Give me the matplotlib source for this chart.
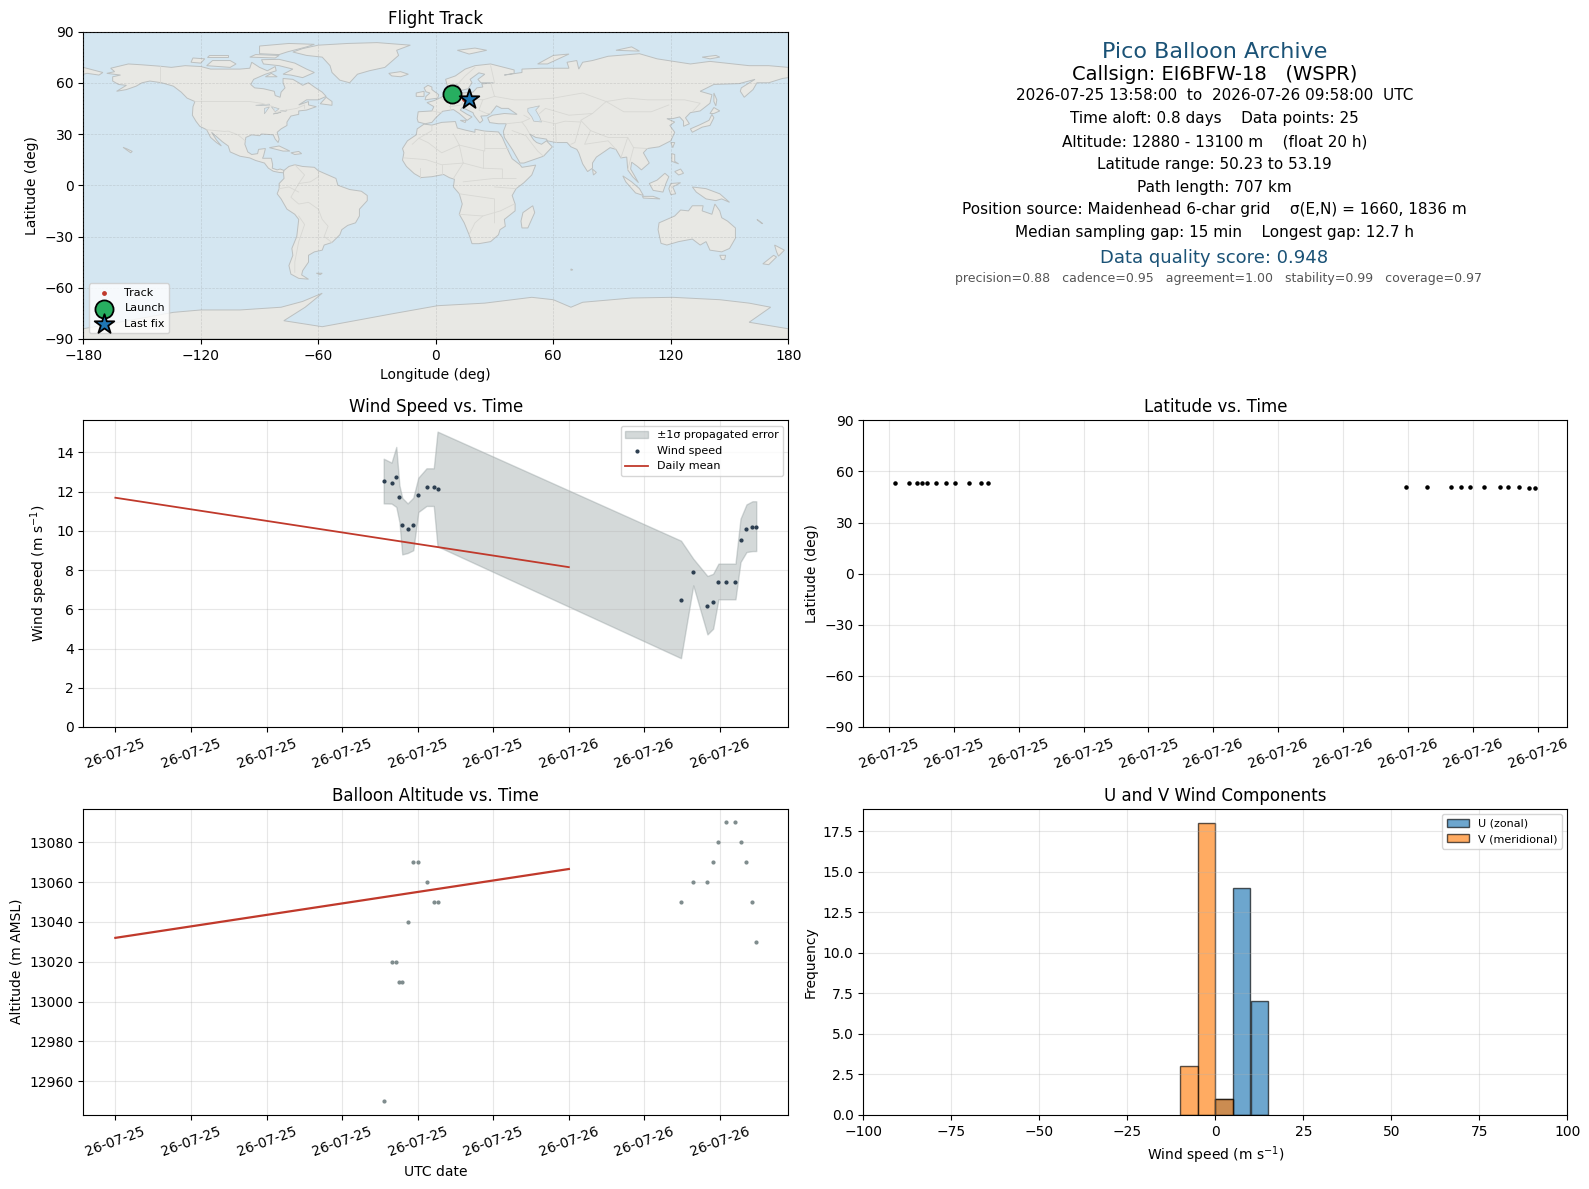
#!/usr/bin/env python3
"""
Painel de resumo de um voo de pico balloon (EI6BFW-18, WSPR).
Valores lidos do grafico original.
"""

from __future__ import annotations

import matplotlib
matplotlib.use("Agg")
import matplotlib.dates as mdates
import matplotlib.pyplot as plt
import pandas as pd


TIMES = [
    "2026-07-25 14:12", "2026-07-25 14:37", "2026-07-25 14:52", "2026-07-25 15:02",
    "2026-07-25 15:11", "2026-07-25 15:28", "2026-07-25 15:46", "2026-07-25 16:02",
    "2026-07-25 16:28", "2026-07-25 16:51", "2026-07-25 17:03",
    "2026-07-26 05:56", "2026-07-26 06:35", "2026-07-26 07:20", "2026-07-26 07:38",
    "2026-07-26 07:55", "2026-07-26 08:20", "2026-07-26 08:49", "2026-07-26 09:05",
    "2026-07-26 09:24", "2026-07-26 09:43", "2026-07-26 09:55",
]
WIND = [12.56, 12.46, 12.76, 11.74, 10.31, 10.11, 10.31, 11.85, 12.25, 12.25, 12.15,
        6.49, 7.92, 6.18, 6.39, 7.41, 7.41, 7.41, 9.55, 10.11, 10.21, 10.21]
WIND_UPPER = [13.68, 13.48, 14.28, 12.32, 11.68, 11.40, 11.69, 12.71, 13.19, 13.19, 15.06,
              9.50, 8.58, 7.70, 7.81, 8.33, 8.33, 8.33, 10.62, 11.35, 11.51, 11.51]
WIND_LOWER = [11.40, 11.39, 11.22, 10.45, 8.80, 8.87, 9.01, 10.96, 11.27, 11.27, 9.21,
              3.51, 7.22, 4.72, 5.01, 6.51, 6.51, 6.51, 8.41, 8.92, 8.97, 8.97]
ALTITUDE = [12950, 13020, 13020, 13010, 13010, 13040, 13070, 13070, 13060, 13050, 13050,
            13050, 13060, 13060, 13070, 13080, 13090, 13090, 13080, 13070, 13050, 13030]
LATITUDE = [53.19, 53.19, 53.19, 53.19, 53.19, 53.19, 53.19, 53.19, 53.19, 53.19, 53.19,
            50.65, 50.65, 50.65, 50.65, 50.65, 50.65, 50.65, 50.65, 50.65, 50.23, 50.23]
LONGITUDE = [8.2, 8.4, 8.7, 8.9, 9.2, 9.5, 9.8, 10.1, 10.5, 10.9, 11.2,
             14.6, 14.9, 15.2, 15.4, 15.7, 15.9, 16.2, 16.4, 16.6, 16.8, 17.0]

DAILY_DATES = ["2026-07-25", "2026-07-26"]
DAILY_WIND = [11.69, 8.15]
DAILY_ALTITUDE = [13032, 13066.6]

HIST_LEFT = [-10, -5, 0, 5, 10]
U_COUNTS = [0, 0, 1, 14, 7]
V_COUNTS = [3, 18, 1, 0, 0]

INFO_LINES = [
    ("Pico Balloon Archive", 16, "#1a5276"),
    ("Callsign: EI6BFW-18   (WSPR)", 14, "black"),
    ("2026-07-25 13:58:00  to  2026-07-26 09:58:00  UTC", 11, "black"),
    ("Time aloft: 0.8 days    Data points: 25", 11, "black"),
    ("Altitude: 12880 - 13100 m    (float 20 h)", 11, "black"),
    ("Latitude range: 50.23 to 53.19", 11, "black"),
    ("Path length: 707 km", 11, "black"),
    ("Position source: Maidenhead 6-char grid    σ(E,N) = 1660, 1836 m", 11, "black"),
    ("Median sampling gap: 15 min    Longest gap: 12.7 h", 11, "black"),
    ("Data quality score: 0.948", 13, "#1a5276"),
    ("precision=0.88   cadence=0.95   agreement=1.00   stability=0.99   coverage=0.97", 9, "#555555"),
]
INFO_Y_PX = [51.7, 74, 95.2, 118.4, 141.9, 164.2, 187.2, 209.8, 232.8, 258.4, 278.7]

# Contornos grosseiros dos continentes (lon, lat).
NORTH_AMERICA = [
    (-168, 65.5), (-164, 66.5), (-166, 68.5), (-157, 71), (-150, 70.5), (-141, 69.7), (-135, 69),
    (-128, 70), (-120, 69.5), (-115, 68), (-108, 68), (-100, 68), (-95, 68.5), (-94, 72), (-90, 69),
    (-86, 67), (-82, 69.5), (-81.5, 67), (-87, 65), (-93, 62), (-94.5, 59), (-92.5, 57), (-88, 56.5),
    (-82.5, 55), (-82, 52.5), (-79.5, 51.5), (-79, 54.5), (-77, 57), (-78, 60), (-78, 62.5), (-73, 62),
    (-70, 60), (-68, 58.5), (-65, 60), (-62, 57.5), (-58, 54.5), (-56, 52), (-60, 50), (-66, 50),
    (-70, 47), (-65, 49), (-65, 47), (-61, 46), (-66, 44), (-70, 43.5), (-70, 41.5), (-74, 40.5),
    (-76, 37), (-76, 35), (-79, 33), (-81, 31), (-80, 27), (-80.5, 25), (-82, 27), (-83, 29.5),
    (-85, 29.7), (-89, 30), (-90, 29), (-94, 29.5), (-97, 28), (-97.5, 24), (-96, 19.5), (-94, 18),
    (-91, 18.5), (-90.5, 21), (-87, 21.5), (-88, 17), (-88.5, 15.8), (-84, 15.8), (-83.3, 12),
    (-83.5, 10), (-81, 9), (-79.5, 9.5), (-77.5, 8.7), (-77.8, 7.3), (-80, 7.5), (-83, 8.2),
    (-85.5, 10), (-87.5, 13), (-92, 14.5), (-95, 16), (-100, 17), (-105, 19.5), (-106, 23),
    (-109, 25.5), (-112.5, 29), (-114.5, 31), (-112, 26.5), (-109.5, 23), (-112, 25), (-115, 28),
    (-117, 32.5), (-120.5, 34.5), (-122.5, 37.5), (-124.3, 41), (-124, 46), (-123, 49), (-127, 51),
    (-130, 54.5), (-134, 58), (-140, 60), (-146, 61), (-150, 60), (-153, 58), (-158, 56), (-163, 55),
    (-158, 58.5), (-162, 59), (-165, 61), (-165, 63.5), (-161, 64.5),
]
SOUTH_AMERICA = [
    (-77.5, 8.7), (-75, 11), (-72, 12), (-68, 11), (-62, 10.5), (-60, 8.5), (-55, 6), (-51, 4), (-50, 0),
    (-44, -2.5), (-38, -3.5), (-35, -6), (-35, -9), (-39, -14), (-39, -18), (-41, -22), (-45, -23.5),
    (-48, -26), (-49, -29), (-53, -33.5), (-57, -35), (-58, -38), (-62, -39), (-65, -41), (-65, -45),
    (-68, -50), (-68.5, -52.5), (-65, -55), (-70, -54.5), (-74, -52), (-75, -47), (-73, -41),
    (-73.5, -37), (-71, -30), (-70, -20), (-72, -17), (-76, -14), (-79, -8), (-81, -5), (-80, -2),
    (-80, 1), (-77.5, 4), (-77.8, 7.3),
]
AFRICA = [
    (-6, 35.8), (-2, 35.2), (3, 36.8), (10, 37.3), (11, 33.5), (15, 32.3), (20, 31), (20, 32.8), (25, 31.7),
    (32, 31.2), (34, 28), (35.5, 24), (37.5, 19), (39, 15.5), (43, 12), (44, 10.5), (51, 11.8), (49, 6),
    (45, 1.5), (41, -2), (39, -6), (40.5, -11), (40.5, -15), (35, -20), (35.5, -24), (32.8, -26), (32, -29),
    (28, -33), (22, -34.2), (18.5, -34.2), (17, -29), (14.5, -22), (12, -17), (13.5, -11), (12, -5), (9, -1),
    (9.5, 3.5), (7, 4.4), (4, 6.3), (-2, 5), (-7.5, 4.5), (-11, 6.8), (-15, 11), (-17, 14.7), (-16.3, 19),
    (-17, 21.5), (-14.5, 26), (-10, 29.5), (-9.5, 33),
]
EURASIA = [
    (-9, 37), (-9.5, 39), (-9, 43), (-2, 43.5), (-1, 46), (-4.5, 48.4), (-1, 49.5), (2, 51), (4.5, 52.5),
    (8, 54), (8.5, 57), (10.5, 57.5), (10.5, 54.5), (14, 54), (19, 54.5), (21, 57), (24, 57.5), (23.5, 59.3),
    (29.5, 60), (23, 60), (21.5, 62), (25, 65), (22, 65.8), (17.5, 62), (18.5, 60), (16.5, 56.5), (13, 55.5),
    (11, 59), (6, 58), (5, 62), (10, 64), (15, 68), (20, 70), (28, 71), (40, 67.5), (40, 65.5), (35, 64.5),
    (44, 66), (44, 68), (54, 68.5), (68, 68.5), (67, 72), (72, 73), (73, 68), (75, 72), (80, 73), (88, 75.5),
    (104, 77), (113, 74), (130, 71), (140, 72.5), (160, 70), (170, 70), (180, 69), (180, 63), (177, 62.5),
    (170, 60), (164, 60), (162, 56), (157.5, 51.5), (155.5, 55), (156, 57), (163, 62), (155, 59.5), (142, 59),
    (135, 55), (141, 53), (140, 48), (135, 43.5), (130, 42.5), (127.5, 39.5), (129.5, 36), (126.5, 34.5),
    (126.5, 37.5), (124.5, 40), (121, 39), (118, 39), (122, 37), (119.5, 35), (122, 31), (120, 26), (114, 22.5),
    (108, 21.5), (106, 19), (109, 13), (105, 9), (103, 11), (100, 13.5), (99.5, 9.5), (103.5, 1.5), (100.5, 5),
    (98, 9), (97.5, 16.5), (94.5, 16), (92, 21), (89, 22), (86.5, 20), (82, 16.5), (80, 13), (80, 10), (77.5, 8),
    (75, 12.5), (73, 19), (72, 21), (69, 22.5), (67, 25), (61.5, 25), (57, 26), (56.5, 27), (51, 28), (48, 30),
    (50, 26.5), (51.5, 25), (54, 24), (56.5, 26), (59.5, 22.5), (55, 17), (45, 13), (43, 13), (39, 21),
    (35, 28), (34.5, 31.5), (36, 36), (32, 36), (27.5, 36.7), (26.5, 39.5), (29, 41), (35, 42), (41.5, 41.5),
    (37, 45), (33.5, 45), (31, 46.5), (28, 42), (26, 40.7), (23, 40.5), (24, 38), (22.5, 36.5), (19.5, 41),
    (19, 42.5), (13.5, 45.5), (12.5, 44), (16, 41.5), (18.5, 40), (16, 38), (12, 42), (9, 44.3), (3.5, 43.3),
    (0, 39.5), (-2, 36.8), (-5.5, 36),
]
ANTARCTICA = [
    (-180, -84), (-134, -74.4), (-120, -73), (-100, -73), (-79, -71.4), (-68, -68), (-58, -63.2), (-62, -67),
    (-66.7, -71.4), (-77.6, -79.3), (-58, -82.8), (-40, -79), (-23, -75.4), (1, -70.5), (25, -69), (49, -65.6),
    (60, -67), (69, -71.4), (75, -68.5), (100, -66), (121, -65.6), (145, -67), (160, -69), (171, -71.4), (160, -80.2),
    (180, -84), (180, -90), (-180, -90),
]
AUSTRALIA = [
    (114, -22), (113.5, -26), (115, -34), (118, -35), (124, -33), (131, -31.5), (135, -35), (138, -33), (140, -38),
    (146, -39), (150, -37), (153, -31), (153, -25), (149, -21), (146, -19), (145, -15), (142.5, -11), (141, -17),
    (136, -15), (136.5, -12), (131, -12), (129, -15), (125, -14.5), (122, -18), (118, -20),
]
ISLANDS = [
    [(-73, 78), (-68, 80), (-60, 82), (-45, 83), (-30, 83.5), (-13, 82), (-20, 79), (-19, 76), (-24, 71), (-26, 69),
     (-34, 67), (-40, 65), (-44, 60), (-49, 61.5), (-53, 66), (-54, 70), (-58, 75), (-66, 76)],
    [(-62, 66), (-68, 63), (-74, 64.5), (-78, 65), (-73, 68), (-80, 70), (-88, 71), (-89, 73.5), (-80, 73.7),
     (-72, 71.5), (-66, 68)],
    [(-117, 70), (-105, 69), (-102, 71), (-105, 73), (-114, 73)],
    [(-90, 77), (-80, 76.5), (-76, 78), (-66, 81), (-62, 82.5), (-75, 83), (-90, 81.5)],
    [(-125, 72), (-120, 71.5), (-118, 74), (-124, 74.5)],
    [(-95, 75), (-82, 74.5), (-80, 76), (-92, 76.5)],
    [(-117, 75), (-106, 75), (-106, 76.5), (-116, 76.5)],
    [(-87, 63.5), (-81, 63.5), (-84, 65.5)],
    [(-59, 47.7), (-53, 46.8), (-53, 49), (-56, 51.5)],
    [(-85, 22), (-80, 23), (-74.5, 20), (-78, 20)],
    [(-74, 19), (-70, 19.8), (-68.5, 18.5), (-72, 18)],
    [(-180, 69), (-175, 67.5), (-170, 66), (-172, 64.5), (-178, 65.5), (-180, 65)],
    [(-159.7, 22.2), (-157.5, 21.2), (-155, 19.8), (-155.8, 19)],
    [(145, -41), (148, -41), (147.5, -43.5), (146, -43.5)],
    [(173, -35), (178, -38), (175, -41.5), (174, -39)],
    [(172.5, -41), (174, -42), (170, -46.5), (167, -46)],
    [(131, -1), (138, -2), (145, -5), (150, -10), (146, -8), (143, -9), (138, -8), (133, -4)],
    [(109, 1), (113, 3), (117, 7), (119, 5), (117.5, 1), (116, -4), (111, -3)],
    [(95.5, 5.5), (100, 2), (104, -2), (106, -6), (102, -4.5), (97, 2)],
    [(105.5, -6.5), (111, -6.5), (114.5, -8), (106, -7.5)],
    [(120, 1), (125, 1.5), (121, -1), (122.5, -5), (120, -5.5), (119, -2)],
    [(120.5, 18.5), (122, 18), (122, 14), (124, 12.5), (120.5, 14)],
    [(122, 8), (125, 9.5), (126.5, 7), (124, 6)],
    [(130, 33), (131, 31), (136, 34), (140, 35), (142, 39.5), (141, 41.5), (139.5, 38), (135, 35.5)],
    [(140, 42), (142, 45.5), (145, 43.5), (142, 42)],
    [(142, 54), (143.5, 50), (143, 46.5), (142, 49)],
    [(120, 25), (122, 25), (121, 22)],
    [(80, 9.5), (82, 7.5), (80.5, 6)],
    [(49.5, -12), (50.5, -16), (47, -25), (44, -25), (43.5, -21), (44.5, -16)],
    [(-5.5, 50), (1, 51), (1.5, 53), (-2, 56), (-2, 57.5), (-4, 58.5), (-6, 57), (-5, 54.7), (-3, 54), (-5, 52)],
    [(-10, 52), (-6, 52), (-6, 55), (-10, 54)],
    [(-24, 65.5), (-18, 66.5), (-14, 65), (-18, 63.5), (-22.5, 64)],
    [(11, 79), (20, 80.3), (26, 79), (17, 76.8)],
    [(52, 71), (57, 71), (68, 76.8), (60, 76)],
    [(92, 79), (104, 78.5), (100, 81)],
    [(136, 75), (143, 76), (145, 75), (140, 74)],
    [(12.5, 38), (15.5, 38), (15, 36.7)],
    [(-61, -51.5), (-58, -51.5), (-59, -52.3)],
    [(164, -20), (167, -22.5), (166, -22)],
    [(69, -49), (70, -49.5), (69, -49.8)],
]
INLAND_WATER = [
    [(47, 45), (53, 46.5), (51, 44), (53, 40), (54, 37), (50, 37.5), (49, 40), (47, 43)],
    [(-92, 46.8), (-85, 47.5), (-85, 46.5)],
    [(-87.5, 41.8), (-85, 45.8), (-87.5, 45)],
    [(-84, 46), (-80, 44.8), (-82, 43)],
    [(-83, 41.7), (-79, 42.8), (-79.5, 42.5)],
    [(-79.5, 43.5), (-76, 44), (-76.5, 43.3)],
]
BORDERS = [
    [(-123, 49), (-95, 49), (-89, 48), (-83, 46), (-82, 42.5), (-76, 44), (-71, 45), (-67, 47), (-67, 45)],
    [(-141, 60), (-141, 69.7)],
    [(-117, 32.5), (-108, 31.5), (-106, 31.7), (-101, 29.5), (-97.3, 26)],
    [(-60, 5), (-64, 2), (-70, 1), (-74, -7), (-70, -11), (-65, -10), (-60, -14), (-58, -20), (-55, -24), (-57, -30),
     (-53, -33.5)],
    [(-70, -18), (-67, -23), (-70, -33), (-72, -45), (-72, -51)],
    [(-72, 12), (-67, 6), (-70, 1)],
    [(-60, 8.5), (-60, 5)],
    [(-80, -2), (-75, -1), (-70, -4)],
    [(-8.7, 27.5), (-4, 25), (3, 19), (12, 23.5), (25, 20), (25, 31.7)],
    [(25, 22), (36.8, 22)],
    [(12, 23.5), (14, 13), (24, 10), (34, 9.5), (34, 4), (41, 4)],
    [(-16, 16), (-5, 15), (3, 12), (14, 13)],
    [(9, 4), (14, 13)],
    [(12, -5), (30, -8), (30, -22)],
    [(12, -17), (24, -18), (33, -15), (40, -11)],
    [(17, -29), (20, -22), (24, -18)],
    [(24, 10), (24, 20)],
    [(14, 2), (30, 4), (34, 4)],
    [(30, -1), (41, -2)],
    [(-12, 24), (-8.7, 27.5), (-2, 32), (-2, 35)],
    [(9, 30), (12, 23.5)],
    [(3, 12), (3, 6.3)],
    [(-8, 10), (-8, 4.5)],
    [(30, 52), (40, 50), (48, 50), (60, 51), (75, 54), (87, 49), (98, 51), (108, 50), (119, 50), (127, 50), (135, 48),
     (131, 43)],
    [(87, 49), (96, 43), (110, 43), (119, 47)],
    [(87, 49), (80, 42), (74, 38), (79, 32), (88, 28), (98, 28), (101, 22), (108, 21.5)],
    [(61.5, 25), (61, 36), (66, 37.5), (74, 37)],
    [(53, 42), (56, 45), (68, 41), (80, 42)],
    [(53, 38), (61, 36)],
    [(74, 37), (71, 25), (69, 24)],
    [(79, 32), (76, 24), (88, 26), (92, 21)],
    [(98, 28), (94.5, 16)],
    [(101, 22), (98, 9)],
    [(36, 36), (44, 37), (46, 34), (48, 30)],
    [(39, 32), (46, 29), (52, 20), (55, 17)],
    [(44, 37), (48, 39), (45, 41)],
    [(8, 54), (7, 49), (2, 51)],
    [(14, 54), (15, 51), (24, 50), (30, 52)],
    [(7, 49), (7, 44)],
    [(15, 51), (13, 47), (7, 46)],
    [(24, 50), (22, 44), (26, 42), (28, 42)],
    [(30, 52), (28, 60)],
    [(-2, 43.5), (3, 42.4)],
    [(11, 59), (15, 64), (20, 69)],
    [(28, 70), (30, 60)],
]

COR_TINTA = "#2c3e50"
COR_CINZA = "#7f8c8d"
COR_MEDIA = "#c0392b"
COR_OCEANO = "#d4e6f1"
COR_TERRA = "#e8e8e4"
LARGURA, ALTURA = 1589, 1189


def criar_eixo(fig: plt.Figure, esq: float, topo: float, dir_: float, base: float) -> plt.Axes:
    return fig.add_axes([esq / LARGURA, 1 - base / ALTURA, (dir_ - esq) / LARGURA, (base - topo) / ALTURA])


def formatar_datas(ax: plt.Axes, horas: int) -> None:
    ax.xaxis.set_major_locator(mdates.HourLocator(byhour=range(0, 24, horas)))
    ax.xaxis.set_major_formatter(mdates.DateFormatter("%y-%m-%d"))
    ax.tick_params(axis="x", labelrotation=20)
    ax.grid(True, alpha=0.3)


def painel_mapa(ax: plt.Axes) -> None:
    ax.set_facecolor(COR_OCEANO)
    terras = [NORTH_AMERICA, SOUTH_AMERICA, AFRICA, EURASIA, ANTARCTICA, AUSTRALIA] + ISLANDS
    for contorno in terras:
        ax.fill(*zip(*contorno), facecolor=COR_TERRA, edgecolor="#bcc0c0", linewidth=0.7, zorder=1)
    for contorno in INLAND_WATER:
        ax.fill(*zip(*contorno), facecolor=COR_OCEANO, edgecolor="#bcc0c0", linewidth=0.5, zorder=1.1)
    for linha in BORDERS:
        ax.plot(*zip(*linha), color="#d8d8d4", linewidth=0.6, zorder=1.2)

    ax.scatter(LONGITUDE, LATITUDE, s=6, color=COR_MEDIA, zorder=3, label="Track")
    ax.scatter(LONGITUDE[0], LATITUDE[0], s=170, color="#27ae60", edgecolor="black", linewidth=1.3, zorder=4,
               label="Launch")
    ax.scatter(LONGITUDE[-1], LATITUDE[-1], s=220, marker="*", color="#1f77b4", edgecolor="black", linewidth=1.3,
               zorder=5, label="Last fix")

    ax.set_xlim(-180, 180)
    ax.set_ylim(-90, 90)
    ax.set_xticks(range(-180, 181, 60))
    ax.set_yticks(range(-90, 91, 30))
    ax.grid(True, color="gray", alpha=0.25, linestyle="--", linewidth=0.5, zorder=2)
    ax.set_axisbelow(False)
    ax.set_xlabel("Longitude (deg)")
    ax.set_ylabel("Latitude (deg)")
    ax.set_title("Flight Track", fontsize=12, pad=5.4)
    ax.legend(loc="lower left", fontsize=8)


def painel_info(ax: plt.Axes, topo: float, base: float, esq: float, dir_: float) -> None:
    ax.axis("off")
    for (texto, tamanho, cor), y_px in zip(INFO_LINES, INFO_Y_PX):
        y = 1 - (y_px - topo) / (base - topo)
        # A ultima linha fica um pouco deslocada para a direita no original.
        x_px = (esq + dir_) / 2 + (3 if tamanho == 9 else -1)
        x = (x_px - esq) / (dir_ - esq)
        ax.text(x, y, texto, transform=ax.transAxes, ha="center", va="center", fontsize=tamanho, color=cor)


def painel_vento(ax: plt.Axes, t: pd.DatetimeIndex, dias: pd.DatetimeIndex) -> None:
    ax.fill_between(t, WIND_LOWER, WIND_UPPER, color=COR_CINZA, alpha=0.33, label="±1σ propagated error")
    ax.scatter(t, WIND, s=4, color=COR_TINTA, label="Wind speed", zorder=3)
    ax.plot(dias, DAILY_WIND, color=COR_MEDIA, linewidth=1.3, label="Daily mean")
    ax.set_ylim(bottom=0)
    ax.set_ylabel("Wind speed (m s$^{-1}$)")
    ax.set_title("Wind Speed vs. Time", fontsize=12)
    ax.legend(loc="upper right", fontsize=8)
    formatar_datas(ax, 4)


def painel_latitude(ax: plt.Axes, t: pd.DatetimeIndex) -> None:
    ax.scatter(t, LATITUDE, s=5, color="black", zorder=3)
    ax.set_ylim(-90, 90)
    ax.set_yticks(range(-90, 91, 30))
    ax.set_ylabel("Latitude (deg)")
    ax.set_title("Latitude vs. Time", fontsize=12)
    formatar_datas(ax, 2)


def painel_altitude(ax: plt.Axes, t: pd.DatetimeIndex, dias: pd.DatetimeIndex) -> None:
    ax.scatter(t, ALTITUDE, s=4, color=COR_CINZA, zorder=3)
    ax.plot(dias, DAILY_ALTITUDE, color=COR_MEDIA, linewidth=1.6)
    ax.set_xlabel("UTC date")
    ax.set_ylabel("Altitude (m AMSL)")
    ax.set_title("Balloon Altitude vs. Time", fontsize=12, pad=5.4)
    formatar_datas(ax, 4)


def painel_histograma(ax: plt.Axes) -> None:
    ax.bar(HIST_LEFT, U_COUNTS, width=5, align="edge", color="#1f77b4", edgecolor="black", alpha=0.65,
           label="U (zonal)")
    ax.bar(HIST_LEFT, V_COUNTS, width=5, align="edge", color="#ff7f0e", edgecolor="black", alpha=0.65,
           label="V (meridional)")
    ax.set_xlim(-100, 100)
    ax.set_xlabel("Wind speed (m s$^{-1}$)")
    ax.set_ylabel("Frequency")
    ax.set_title("U and V Wind Components", fontsize=12, pad=5.4)
    ax.legend(loc="upper right", fontsize=8)
    ax.grid(True, alpha=0.3)


def main() -> None:
    fig = plt.figure(figsize=(LARGURA / 100, ALTURA / 100), dpi=100)
    t = pd.to_datetime(TIMES)
    dias = pd.to_datetime(DAILY_DATES)

    painel_mapa(criar_eixo(fig, 83.3, 31.5, 788.3, 339))
    painel_info(criar_eixo(fig, 863.3, 31.5, 1567.3, 339), 31.5, 339, 863.3, 1567.3)
    painel_vento(criar_eixo(fig, 83.3, 420.3, 788.3, 727), t, dias)
    painel_latitude(criar_eixo(fig, 863.3, 420.3, 1567.3, 727), t)
    painel_altitude(criar_eixo(fig, 83.3, 808.5, 788.3, 1115), t, dias)
    painel_histograma(criar_eixo(fig, 863.3, 808.5, 1567.3, 1115))

    fig.savefig("out.png", dpi=100)
    plt.close(fig)


if __name__ == "__main__":
    main()
